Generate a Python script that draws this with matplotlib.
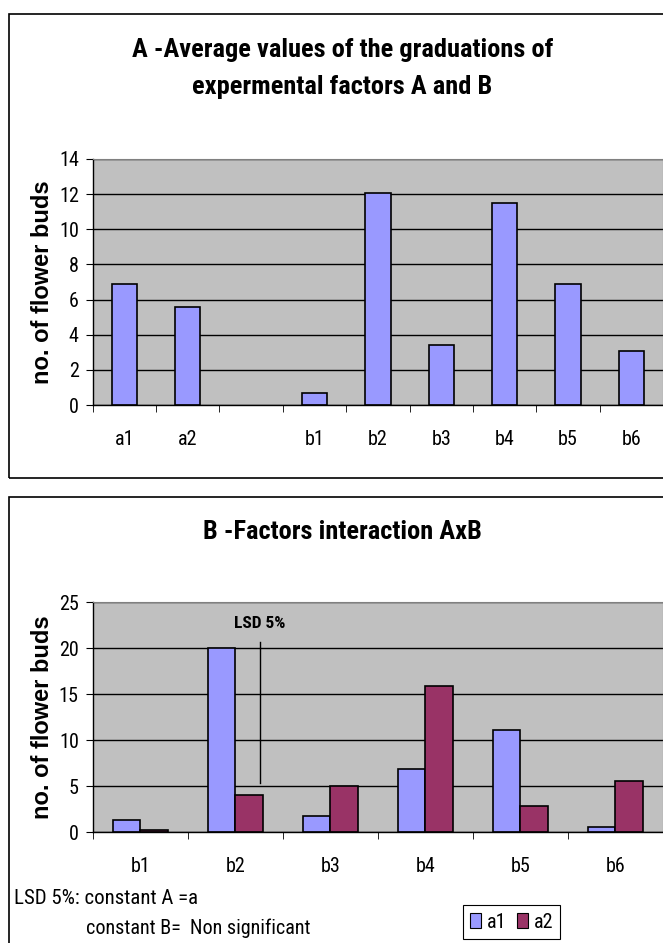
import numpy as np
import matplotlib.pyplot as plt
from matplotlib.patches import Rectangle, Patch

# mean number of flower buds for each graduation of factors A and B
levels = ['a1', 'a2', '', 'b1', 'b2', 'b3', 'b4', 'b5', 'b6']
level_means = [6.9, 5.6, None, 0.7, 12.05, 3.4, 11.5, 6.9, 3.05]

# interaction A x B
b_levels = ['b1', 'b2', 'b3', 'b4', 'b5', 'b6']
a1_vals = [1.35, 20.0, 1.7, 6.9, 11.1, 0.5]
a2_vals = [0.2, 4.0, 5.0, 15.9, 2.8, 5.55]

# LSD 5% bar drawn on the interaction chart
lsd_x = 1.26
lsd_low, lsd_high = 5.3, 20.7

NARROW = ['Roboto Condensed', 'Arial Narrow', 'Liberation Sans Narrow', 'Liberation Sans']
WIDE = ['Liberation Sans', 'DejaVu Sans']
C_A1 = '#9999FF'
C_A2 = '#993366'
PLOT_BG = '#C0C0C0'

W, H = 663, 943
fig = plt.figure(figsize=(W / 100, H / 100), dpi=100)


def px_axes(left, top, right, bottom):
    return fig.add_axes([left / W, 1 - bottom / H, (right - left) / W, (bottom - top) / H])


def style_axes(ax, n, ymax, ystep, labels, label_y):
    ax.set_facecolor(PLOT_BG)
    ax.set_xlim(-0.5, n - 0.5)
    ax.set_ylim(0, ymax)
    ax.set_yticks(np.arange(0, ymax + 1, ystep))
    ax.yaxis.grid(True, color='black', linewidth=1.0)
    ax.set_axisbelow(True)
    for s in ['top', 'right']:
        ax.spines[s].set_color('#808080')
    for s in ['left', 'bottom']:
        ax.spines[s].set_color('black')
        ax.spines[s].set_linewidth(1.0)
    # category labels at centres, tick marks on the boundaries
    ax.set_xticks(np.arange(n))
    ax.set_xticklabels(labels, family=NARROW, fontsize=14.5)
    ax.tick_params(axis='x', which='major', length=0, pad=18)
    ax.set_xticks(np.arange(n + 1) - 0.5, minor=True)
    ax.tick_params(axis='x', which='minor', length=5, direction='out', color='black')
    ax.tick_params(axis='y', length=5, direction='out', pad=5, color='black')
    for t in ax.get_yticklabels():
        t.set_family(NARROW)
        t.set_fontsize(14.5)
    ax.set_ylabel('no. of flower buds', family=WIDE, fontweight='bold', fontsize=17)
    ax.yaxis.set_label_coords(54 / W, 1 - label_y / H, transform=fig.transFigure)


# --- A: average values of the graduations ---
ax1 = px_axes(92.7, 159, 663, 405)
xs = [i for i, v in enumerate(level_means) if v is not None]
vals = [v for v in level_means if v is not None]
ax1.bar(xs, vals, width=0.4, color=C_A1, edgecolor='black', linewidth=1.2)
style_axes(ax1, len(levels), 14, 2, levels, 282)

fig.text(342.5 / W, 1 - 50 / H, 'A -Average values of the graduations of',
         ha='center', va='center', family=NARROW, fontweight='bold', fontsize=19)
fig.text(342.5 / W, 1 - 87 / H, 'expermental factors A and B',
         ha='center', va='center', family=NARROW, fontweight='bold', fontsize=19)

# --- B: interaction AxB ---
ax2 = px_axes(92.7, 602, 663, 832)
x = np.arange(len(b_levels))
bw = 0.29
ax2.bar(x - bw / 2, a1_vals, width=bw, color=C_A1, edgecolor='black', linewidth=1.2)
ax2.bar(x + bw / 2, a2_vals, width=bw, color=C_A2, edgecolor='black', linewidth=1.2)
style_axes(ax2, len(b_levels), 25, 5, b_levels, 717)

ax2.plot([lsd_x, lsd_x], [lsd_low, lsd_high], color='black', linewidth=1.0)
ax2.text(lsd_x, 22.7, 'LSD 5%', ha='center', va='center',
         family=NARROW, fontweight='bold', fontsize=12.5)

fig.text(342.5 / W, 1 - 532 / H, 'B -Factors interaction AxB',
         ha='center', va='center', family=NARROW, fontweight='bold', fontsize=19)

fig.text(14 / W, 1 - 899 / H, 'LSD 5%: constant A =a', ha='left', va='center',
         family=NARROW, fontsize=15)
fig.text(86 / W, 1 - 928 / H, 'constant B=  Non significant', ha='left', va='center',
         family=NARROW, fontsize=14.5)

handles = [Patch(facecolor=C_A1, edgecolor='black', linewidth=0.8),
           Patch(facecolor=C_A2, edgecolor='black', linewidth=0.8)]
leg = fig.legend(handles, ['a1', 'a2'], ncol=2, loc='center',
                 bbox_to_anchor=(511.5 / W, 1 - 922 / H),
                 prop={'family': NARROW, 'size': 14.5},
                 frameon=True, fancybox=False, edgecolor='black', framealpha=1,
                 handlelength=0.55, handleheight=0.75, handletextpad=0.3,
                 columnspacing=0.5, borderpad=0.35, borderaxespad=0)
leg.get_frame().set_linewidth(0.8)

# chart frames
fig.add_artist(Rectangle((9 / W, 1 - 478 / H), 680 / W, (478 - 14) / H,
                         transform=fig.transFigure, fill=False,
                         edgecolor='black', linewidth=1.2))
fig.add_artist(Rectangle((9 / W, -0.05), 680 / W, 1 - 497 / H + 0.05,
                         transform=fig.transFigure, fill=False,
                         edgecolor='black', linewidth=1.2))

fig.savefig('out.png', dpi=100, facecolor='white')
